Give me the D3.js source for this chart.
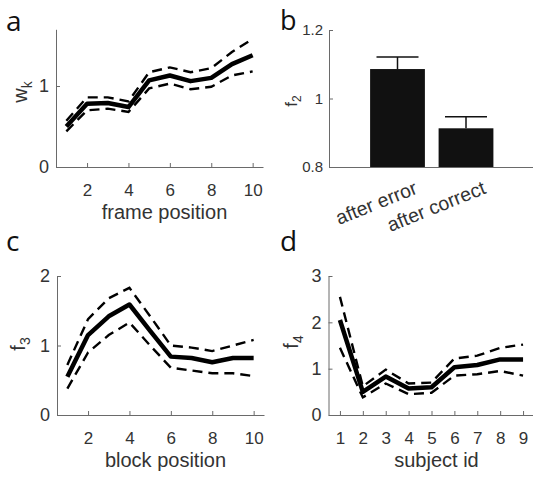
<!DOCTYPE html>
<html><head><meta charset="utf-8">
<script src="https://cdn.jsdelivr.net/npm/d3@7"></script>
<style>
body{margin:0;background:#fff;}
svg{display:block;}
.tick text{font-family:"Liberation Sans",Arial,sans-serif;fill:#333;}
</style></head><body>
<script>
// Panel a: frame position vs w_k
const framePos = [1,2,3,4,5,6,7,8,9,10];
const wkMean  = [0.50,0.78,0.79,0.74,1.07,1.13,1.06,1.10,1.27,1.38];
const wkUpper = [0.57,0.86,0.86,0.81,1.17,1.23,1.17,1.22,1.42,1.58];
const wkLower = [0.44,0.70,0.72,0.68,0.97,1.03,0.96,0.99,1.13,1.18];

// Panel b: f2 bars
const condLabels = ["after error","after correct"];
const f2Mean = [1.086,0.913];
const f2Err  = [0.035,0.034];

// Panel c: block position vs f3
const blockPos = [1,2,3,4,5,6,7,8,9,10];
const f3Mean  = [0.55,1.15,1.42,1.59,1.21,0.84,0.82,0.76,0.82,0.82];
const f3Upper = [0.72,1.38,1.68,1.83,1.42,1.00,0.97,0.92,1.00,1.08];
const f3Lower = [0.38,0.90,1.15,1.33,1.00,0.68,0.64,0.60,0.60,0.56];

// Panel d: subject id vs f4
const subjId = [1,2,3,4,5,6,7,8,9];
const f4Mean  = [2.05,0.50,0.83,0.57,0.60,1.03,1.08,1.20,1.20];
const f4Upper = [2.55,0.62,0.98,0.68,0.70,1.22,1.28,1.45,1.52];
const f4Lower = [1.45,0.38,0.68,0.45,0.48,0.85,0.88,0.95,0.85];

const ticksA = [2,4,6,8,10];
const ticksAY = [0,1];
const ticksBY = [0.8,1,1.2];
const ticksCY = [0,1,2];
const ticksD = [1,2,3,4,5,6,7,8,9];
const ticksDY = [0,1,2,3];

const W=533,H=484;
const svg = d3.select("body").append("svg").attr("width",W).attr("height",H);
const AXC="#6a6a6a", TXC="#333";

function styleAxis(g, fs){
  g.select(".domain").attr("stroke",AXC).attr("stroke-width",1);
  g.selectAll(".tick line").attr("stroke",AXC).attr("stroke-width",1);
  g.selectAll(".tick text").attr("font-size",fs).attr("fill",TXC);
}

function linePanel(cfg){
  const x = d3.scaleLinear().domain(cfg.xd).range(cfg.xr);
  const y = d3.scaleLinear().domain(cfg.yd).range(cfg.yr);
  const g = svg.append("g");
  const gx = g.append("g").attr("transform",`translate(0,${cfg.yr[0]})`)
    .call(d3.axisBottom(x).tickValues(cfg.xt).tickFormat(d3.format("d")).tickSizeInner(-4).tickSizeOuter(0).tickPadding(0));
  styleAxis(gx,17);
  gx.selectAll(".tick text").attr("dy",null).attr("y",29);
  const gy = g.append("g").attr("transform",`translate(${cfg.xr[0]},0)`)
    .call(d3.axisLeft(y).tickValues(cfg.yt).tickFormat(d3.format("d")).tickSizeInner(-4).tickSizeOuter(0).tickPadding(7));
  styleAxis(gy,18);
  const ln = d3.line().x((d,i)=>x(cfg.xs[i])).y(d=>y(d));
  [cfg.up,cfg.lo].forEach(arr=>{
    g.append("path").attr("d",ln(arr)).attr("fill","none").attr("stroke","#000")
      .attr("stroke-width",2.4).attr("stroke-dasharray","10,6");
  });
  g.append("path").attr("d",ln(cfg.mean)).attr("fill","none").attr("stroke","#000")
    .attr("stroke-width",4.5).attr("stroke-linejoin","round");
  // x label
  g.append("text").attr("x",(cfg.xr[0]+cfg.xr[1])/2+5).attr("y",cfg.yr[0]+52)
    .attr("text-anchor","middle").attr("font-family","Liberation Sans, Arial, sans-serif")
    .attr("font-size",20).attr("fill",TXC).text(cfg.xlabel);
  // y label
  const yl = g.append("text").attr("transform",`translate(${cfg.ylx},${cfg.yly}) rotate(-90)`)
    .attr("text-anchor","middle").attr("font-family","Liberation Sans, Arial, sans-serif")
    .attr("font-size",20).attr("fill",TXC);
  yl.append("tspan").text(cfg.ylabel[0]);
  yl.append("tspan").attr("font-size",14).attr("dy",5).text(cfg.ylabel[1]);
  // panel letter
  svg.append("text").attr("x",cfg.lx).attr("y",cfg.ly).attr("font-family","Open Sans, sans-serif")
    .attr("font-size",cfg.lfs).attr("fill","#111").text(cfg.letter);
}

linePanel({xd:[0.5,10.5],xr:[56,263],yd:[0,1.7],yr:[167,29.3],xt:ticksA,yt:ticksAY,
  xs:framePos,mean:wkMean,up:wkUpper,lo:wkLower,xlabel:"frame position",ylabel:["w","k"],
  ylx:27,yly:92,letter:"a",lx:6,ly:31,lfs:28});
linePanel({xd:[0.5,10.5],xr:[57,264],yd:[0,2],yr:[415,276],xt:ticksA,yt:ticksCY,
  xs:blockPos,mean:f3Mean,up:f3Upper,lo:f3Lower,xlabel:"block position",ylabel:["f","3"],
  ylx:25,yly:344,letter:"c",lx:6,ly:251,lfs:28});
linePanel({xd:[0.5,9.5],xr:[328.5,534.5],yd:[0,3],yr:[415,276],xt:ticksD,yt:ticksDY,
  xs:subjId,mean:f4Mean,up:f4Upper,lo:f4Lower,xlabel:"subject id",ylabel:["f","4"],
  ylx:298,yly:342,letter:"d",lx:280,ly:251,lfs:28});

// Panel b
(function(){
  const x = d3.scaleLinear().domain([0,3]).range([329,534.5]);
  const y = d3.scaleLinear().domain([0.8,1.2]).range([167,30]);
  const g = svg.append("g");
  const bw = (x(1)-x(0))*0.8;
  g.selectAll("rect.bar").data(f2Mean).enter().append("rect").attr("class","bar")
    .attr("x",(d,i)=>x(i+1)-bw/2).attr("width",bw)
    .attr("y",d=>y(d)).attr("height",d=>y(0.8)-y(d)).attr("fill","#111");
  f2Mean.forEach((m,i)=>{
    const cx=x(i+1), top=y(m+f2Err[i]);
    g.append("line").attr("x1",cx).attr("x2",cx).attr("y1",y(m)).attr("y2",top).attr("stroke","#111").attr("stroke-width",1.5);
    g.append("line").attr("x1",cx-21).attr("x2",cx+21).attr("y1",top).attr("y2",top).attr("stroke","#111").attr("stroke-width",1.5);
  });
  const gx = g.append("g").attr("transform",`translate(0,167)`)
    .call(d3.axisBottom(x).tickValues([]).tickSizeOuter(0));
  styleAxis(gx,15);
  condLabels.forEach((t,i)=>{
    g.append("text").attr("transform",`translate(${x(i+1)+21},193) rotate(-22)`)
      .attr("text-anchor","end").attr("font-family","Liberation Sans, Arial, sans-serif")
      .attr("font-size",19.5).attr("fill",TXC).text(t);
  });
  const gy = g.append("g").attr("transform",`translate(329,0)`)
    .call(d3.axisLeft(y).tickValues(ticksBY).tickFormat(d=>d===1?"1":d3.format(".1f")(d)).tickSizeInner(-4).tickSizeOuter(0).tickPadding(6));
  styleAxis(gy,15);
  const yl = g.append("text").attr("transform",`translate(297,101) rotate(-90)`)
    .attr("text-anchor","middle").attr("font-family","Liberation Sans, Arial, sans-serif")
    .attr("font-size",17).attr("fill",TXC);
  yl.append("tspan").text("f");
  yl.append("tspan").attr("font-size",12).attr("dy",4).text("2");
  svg.append("text").attr("x",280).attr("y",30).attr("font-family","Open Sans, sans-serif")
    .attr("font-size",27).attr("fill","#111").text("b");
})();
</script>
</body></html>
